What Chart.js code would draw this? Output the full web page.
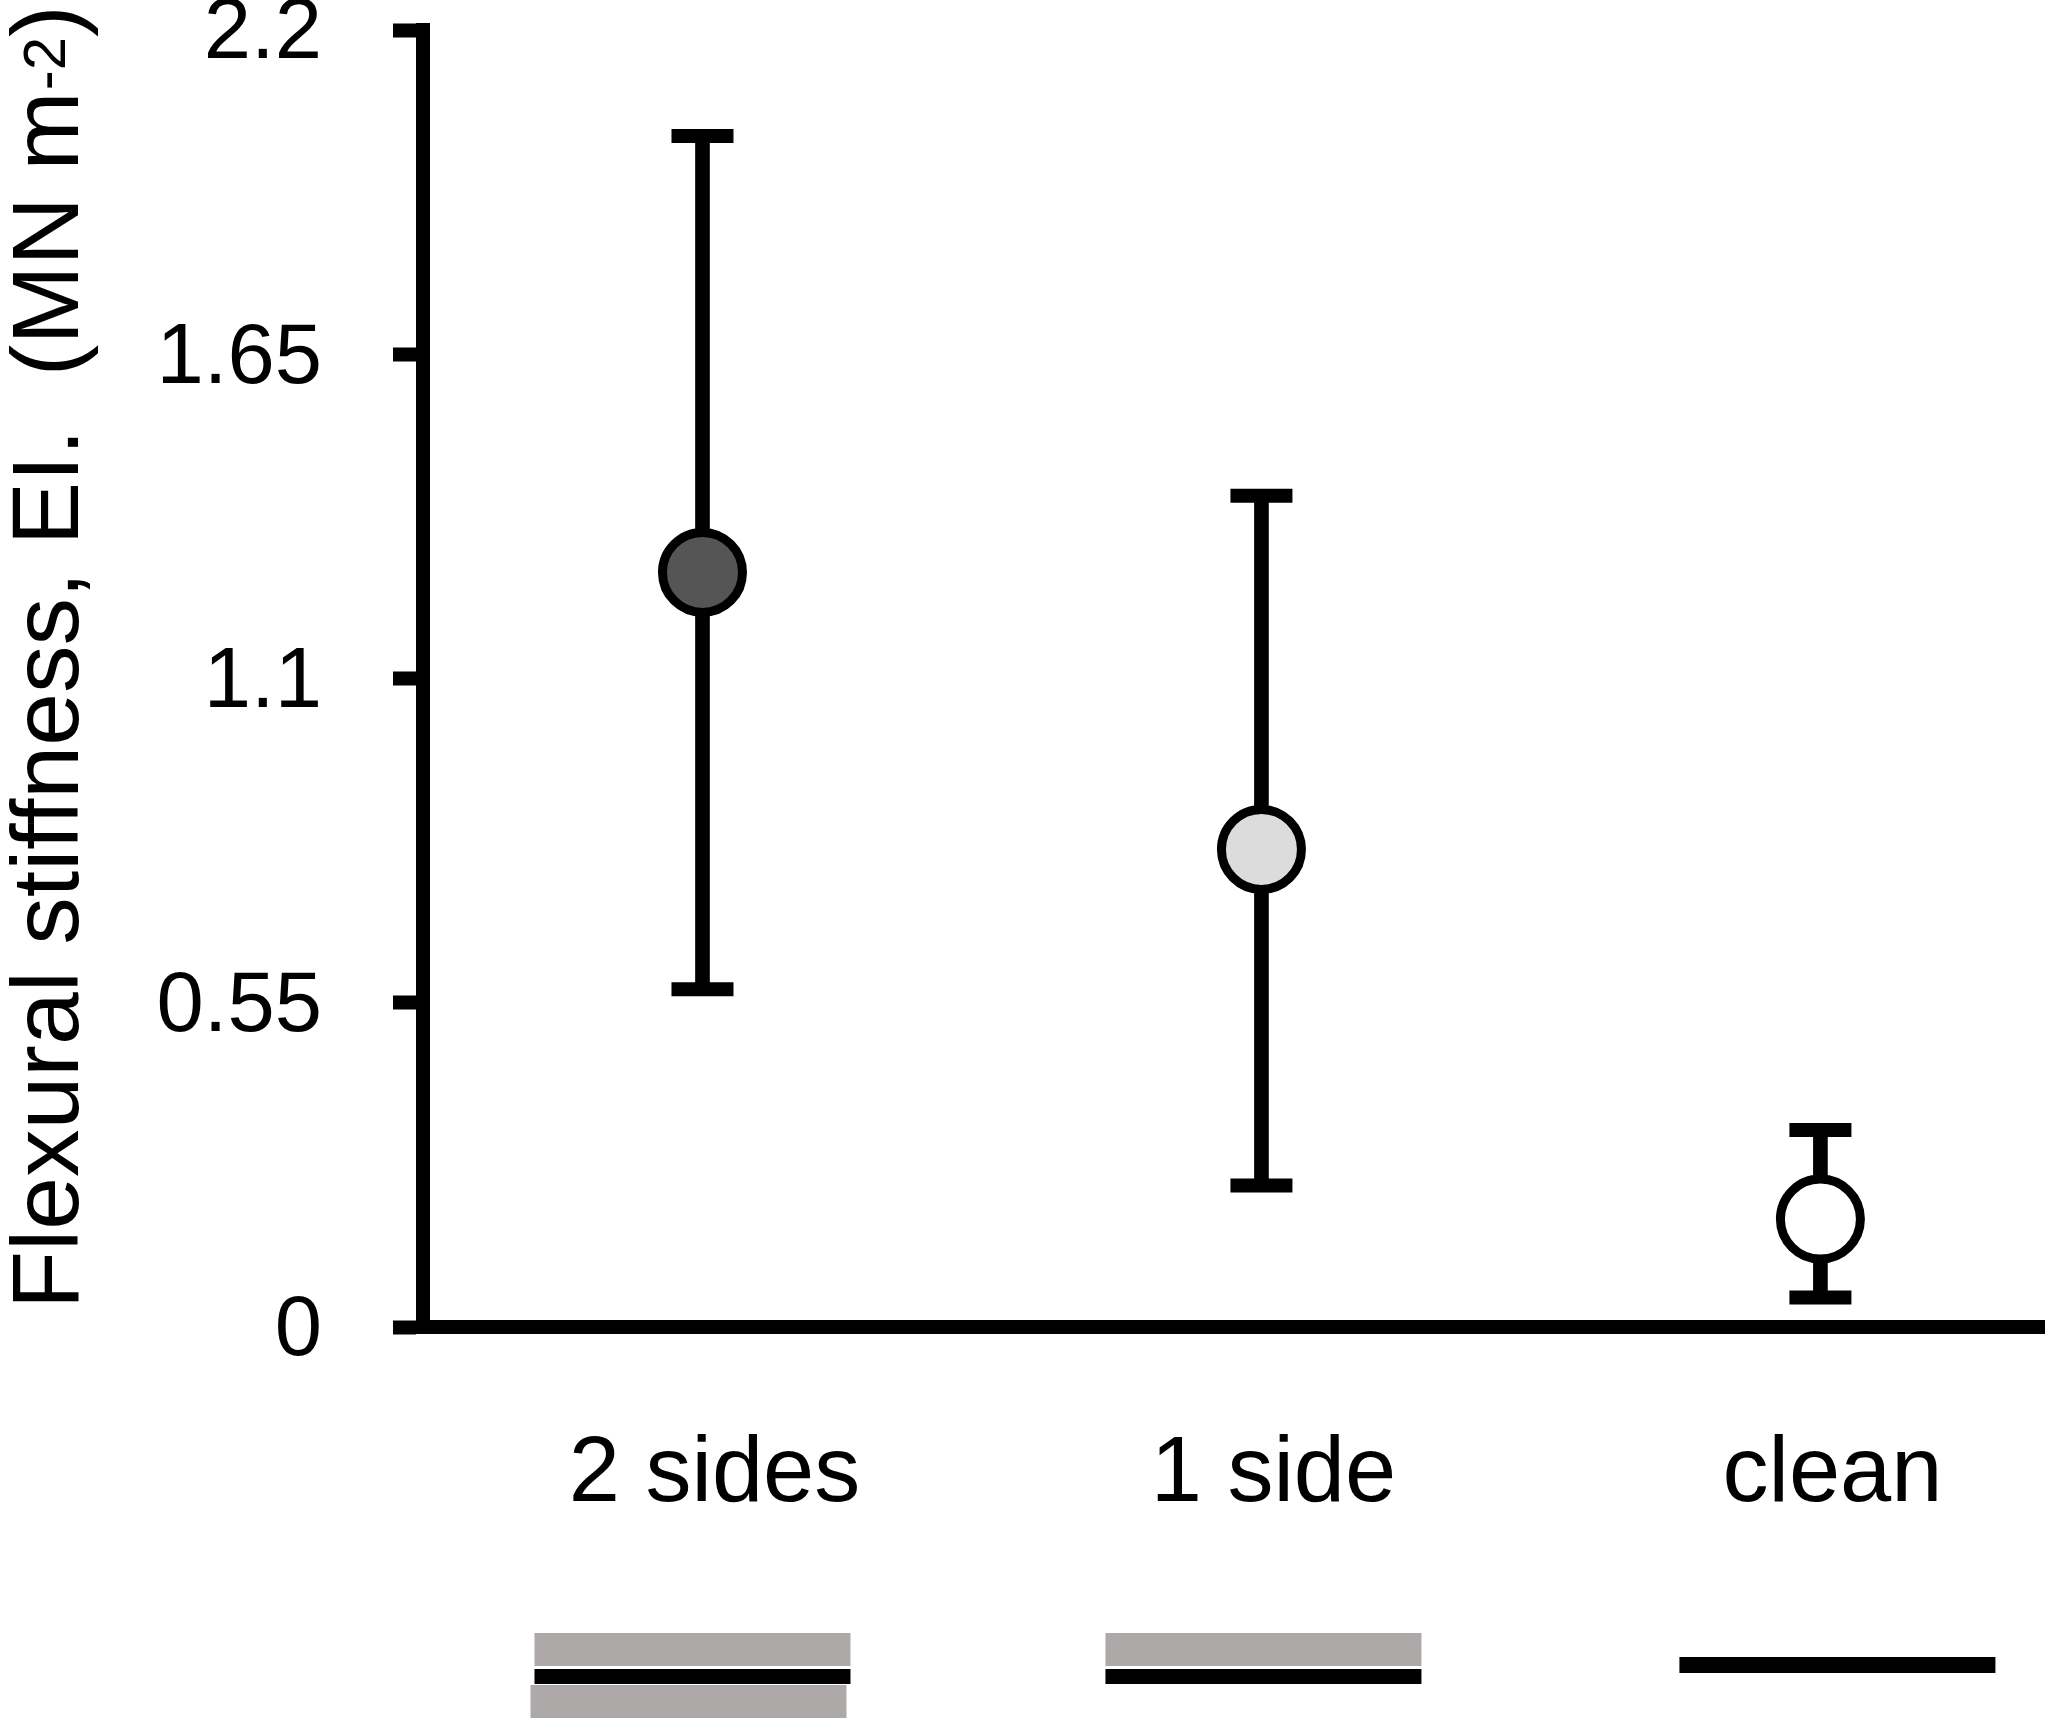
<!DOCTYPE html>
<html>
<head>
<meta charset="utf-8">
<title>Flexural stiffness</title>
<script src="https://cdn.jsdelivr.net/npm/chart.js@4"></script>
<style>
  html, body { margin: 0; padding: 0; background: #fff; }
  #wrap { width: 2047px; height: 1718px; position: relative; }
</style>
</head>
<body>
<div id="wrap"><canvas id="chart"></canvas></div>
<script>
// --------- Data ---------
const categories = ["2 sides", "1 side", "clean"];
const meanEI = [1.28, 0.81, 0.183];
const upperEI = [2.02, 1.41, 0.334];
const lowerEI = [0.573, 0.24, 0.05];
const yTicks = [0, 0.55, 1.1, 1.65, 2.2];
const coatedSides = [2, 1, 0];

const FONT = "'Liberation Sans', Arial, Helvetica, sans-serif";

// --------- Plugins ---------
// y-axis title with a real superscript
const yTitlePlugin = {
  id: "yTitle",
  afterDraw(chart) {
    const ctx = chart.ctx;
    const main = "Flexural stiffness, EI.  (MN m";
    const sup = "-2";
    const tail = ")";
    ctx.save();
    ctx.translate(78, 1309);
    ctx.rotate(-Math.PI / 2);
    ctx.fillStyle = "#000";
    ctx.textBaseline = "alphabetic";
    ctx.textAlign = "left";
    ctx.font = `95px ${FONT}`;
    ctx.fillText(main, 0, 0);
    let x = ctx.measureText(main).width + 1;
    ctx.font = `60px ${FONT}`;
    ctx.fillText(sup, x, -13);
    x += ctx.measureText(sup).width;
    ctx.font = `95px ${FONT}`;
    ctx.fillText(tail, x, 0);
    ctx.restore();
  }
};

// little sketches of the coated / clean samples under each label
const samplePlugin = {
  id: "samples",
  afterDraw(chart) {
    const ctx = chart.ctx;
    const xs = chart.scales.x;
    const shift = [-10, 2, 17];
    const w = 316;
    ctx.save();
    coatedSides.forEach((n, i) => {
      const cx = xs.getPixelForValue(i + 1) + shift[i];
      const left = cx - w / 2;
      if (n === 0) {
        ctx.fillStyle = "#000";
        ctx.fillRect(left, 1657, w, 16);
        return;
      }
      ctx.fillStyle = "#aca9a8";
      ctx.fillRect(left, 1633, w, 33);
      ctx.fillStyle = "#000";
      ctx.fillRect(left, 1669, w, 15);
      if (n === 2) {
        ctx.fillStyle = "#aca9a8";
        ctx.fillRect(left - 4, 1685, w, 33);
      }
    });
    ctx.restore();
  }
};

// --------- Chart ---------
const xs = categories.map((_, i) => i + 1);

new Chart(document.getElementById("chart"), {
  data: {
    datasets: [
      {
        type: "scatter",
        label: "mean",
        data: xs.map((x, i) => ({ x, y: meanEI[i] })),
        pointRadius: 40,
        pointHoverRadius: 40,
        pointBorderWidth: 9,
        pointBackgroundColor: ["#555555", "#dcdcdc", "#ffffff"],
        pointBorderColor: "#000",
        order: 0,
        clip: false
      },
      {
        type: "scatter",
        label: "caps",
        data: xs.flatMap((x, i) => [{ x, y: upperEI[i] }, { x, y: lowerEI[i] }]),
        pointStyle: "line",
        pointRadius: 31,
        pointHoverRadius: 31,
        pointBorderWidth: 14,
        pointBorderColor: "#000",
        order: 1,
        clip: false
      },
      {
        type: "bar",
        label: "range",
        data: xs.map((x, i) => ({ x, y: [lowerEI[i], upperEI[i]] })),
        backgroundColor: "#000",
        barThickness: 14,
        order: 2
      }
    ]
  },
  options: {
    responsive: true,
    maintainAspectRatio: false,
    animation: false,
    events: [],
    layout: { autoPadding: false, padding: { top: 30, right: 3, left: 0, bottom: 0 } },
    plugins: {
      legend: { display: false },
      tooltip: { enabled: false }
    },
    scales: {
      x: {
        type: "linear",
        offset: false,
        min: 0.5,
        max: 3.4,
        afterBuildTicks: (s) => { s.ticks = xs.map((v) => ({ value: v })); },
        afterFit: (s) => {
          s.height = 391;
          s.paddingLeft = 0;
          s.paddingRight = 0;
        },
        grid: { display: true, drawOnChartArea: false, drawTicks: false },
        border: { display: true, width: 14, color: "#000" },
        ticks: {
          padding: 93,
          labelOffset: 12,
          color: "#000",
          maxRotation: 0,
          autoSkip: false,
          font: { family: FONT, size: 92 },
          callback: (v) => categories[v - 1]
        }
      },
      y: {
        type: "linear",
        min: 0,
        max: 2.2,
        afterBuildTicks: (s) => { s.ticks = yTicks.map((v) => ({ value: v })); },
        afterFit: (s) => {
          s.width = 423;
          s.paddingTop = 0;
          s.paddingBottom = 0;
        },
        grid: {
          display: true,
          drawOnChartArea: false,
          drawTicks: true,
          tickLength: 30,
          tickWidth: 14,
          tickColor: "#000"
        },
        border: { display: true, width: 14, color: "#000" },
        ticks: {
          padding: 71,
          labelOffset: 5,
          color: "#000",
          font: { family: FONT, size: 85 },
          callback: (v) => String(v)
        }
      }
    }
  },
  plugins: [yTitlePlugin, samplePlugin]
});
</script>
</body>
</html>
